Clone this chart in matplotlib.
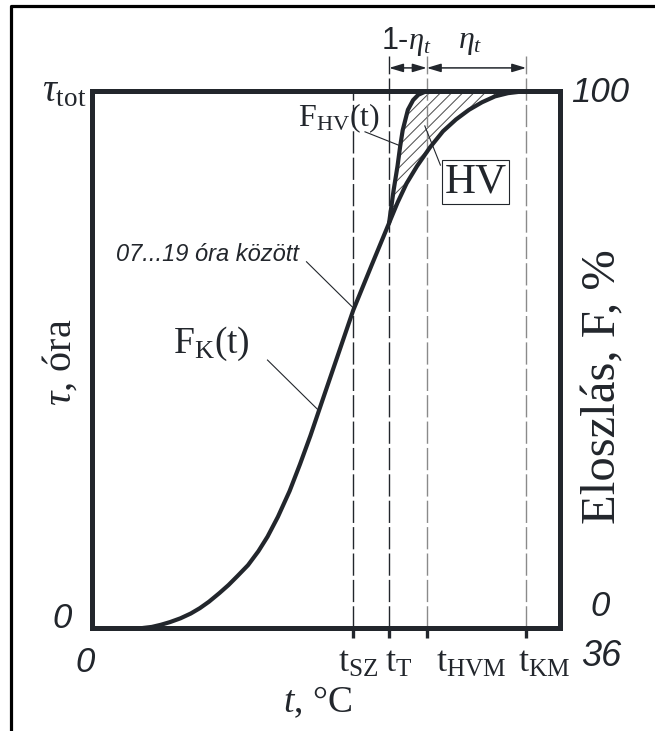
import matplotlib
matplotlib.use("Agg")
import matplotlib.pyplot as plt
from matplotlib.lines import Line2D

plt.rcParams['mathtext.fontset'] = 'custom'
plt.rcParams['mathtext.rm'] = 'Liberation Serif'
plt.rcParams['mathtext.it'] = 'Liberation Serif:italic'
plt.rcParams['mathtext.bf'] = 'Liberation Serif:bold'
plt.rcParams['hatch.linewidth'] = 0.7

# --- data -----------------------------------------------------------------
# cumulative distribution of outdoor temperature, whole day (K)
fk_t = [3.9, 4.6, 5.3, 6.0, 6.8, 7.6, 8.3, 9.0, 9.8, 10.5, 11.2, 12.0,
        12.8, 13.5, 14.3, 15.2, 16.0, 16.8, 17.6, 18.8, 20.1, 21.5, 22.85,
        23.5, 24.2, 25.0, 26.0, 27.0, 28.0, 29.0, 30.0, 31.0, 32.0, 33.4]
fk_F = [0, 0.2, 0.6, 1.1, 1.8, 2.7, 3.7, 4.9, 6.5, 8.0, 9.7, 11.7,
        14.3, 17.0, 20.7, 25.5, 30.5, 35.8, 41.5, 50.0, 59.2, 67.5, 75.4,
        79.2, 82.8, 86.0, 89.5, 92.5, 94.7, 96.5, 97.9, 99.0, 99.6, 100]
# heat-recovery branch (HV)
fhv_t = [22.85, 23.0, 23.2, 23.5, 23.7, 23.9, 24.3, 24.7, 25.1, 25.75]
fhv_F = [75.4, 78.0, 81.5, 86.0, 89.6, 92.7, 96.5, 98.3, 99.3, 100]

t_max = 36
F_max = 100
t_marks = [20.1, 22.85, 25.75, 33.4]          # t_SZ, t_T, t_HVM, t_KM
t_mark_labels = [r'$\mathrm{t_{SZ}}$', r'$\mathrm{t_{T}}$',
                 r'$\mathrm{t_{HVM}}$', r'$\mathrm{t_{KM}}$']
t_label_x = [20.5, 23.6, 29.2, 34.8]

dark = '#22262c'
grey = '#8a8a8a'
serif = 'Liberation Serif'
sans = 'Liberation Sans'

W, H = 655, 731
fig = plt.figure(figsize=(W / 100, H / 100), dpi=100)
ax = fig.add_axes([92 / W, 1 - 628 / H, (560 - 92) / W, (628 - 91) / H])
ax.set_xlim(0, t_max)
ax.set_ylim(0, F_max)
ax.set_xticks([])
ax.set_yticks([])
for s in ax.spines.values():
    s.set_linewidth(3.6)
    s.set_color(dark)
    s.set_zorder(5)

# outer frame (left and top)
fig.add_artist(Line2D([11 / W, 11 / W, 1.0], [0.0, 1 - 6 / H, 1 - 6 / H],
                      color='black', lw=2.3, transform=fig.transFigure))

# vertical guide lines
ax.plot([t_marks[0]] * 2, [0, 100], color=dark, lw=1.0, dashes=(16, 3))
ax.plot([t_marks[1]] * 2, [0, 106.5], color=dark, lw=1.0, dashes=(16, 3),
        clip_on=False)
for tm in t_marks[2:]:
    ax.plot([tm] * 2, [0, 106.5], color=grey, lw=1.0, dashes=(16, 3),
            clip_on=False)
for tm in t_marks:
    ax.plot([tm] * 2, [0, -1.9], color=dark, lw=2.4, clip_on=False,
            solid_capstyle='butt')

# hatched area between the two curves
poly_t = fhv_t + [t for t in fk_t[::-1] if t > fhv_t[0]] + [fhv_t[0]]
poly_F = fhv_F + [f for t, f in zip(fk_t[::-1], fk_F[::-1]) if t > fhv_t[0]] + [fhv_F[0]]
ax.fill(poly_t, poly_F, facecolor='none', edgecolor='#4a4a4a', hatch='///', lw=0)

ax.plot(fk_t, fk_F, color=dark, lw=3.0, solid_capstyle='round',
        solid_joinstyle='round', zorder=4)
ax.plot(fhv_t, fhv_F, color=dark, lw=3.0, solid_capstyle='round',
        solid_joinstyle='round', zorder=4)

# dimension arrows above the plot
arr = dict(arrowstyle='<|-|>,head_length=0.6,head_width=0.18', color=dark,
           lw=1.1, shrinkA=0, shrinkB=0, mutation_scale=14)
ax.annotate('', xy=(t_marks[1], 104.3), xytext=(t_marks[2], 104.3),
            arrowprops=arr, annotation_clip=False)
ax.annotate('', xy=(t_marks[2], 104.3), xytext=(t_marks[3], 104.3),
            arrowprops=arr, annotation_clip=False)
ax.text(24.2, 109.3, r'1-$\eta_t$', family=sans, fontsize=22, color=dark,
        ha='center', va='center')
ax.text(29.1, 109.3, r'$\eta_t$', fontsize=23, color=dark,
        ha='center', va='center')

# leader lines and curve labels
lead = dict(color=dark, lw=0.8)
ax.plot([21.0, 23.7], [92.4, 89.8], **lead)
ax.plot([26.8, 25.6], [86.2, 93.5], **lead)
ax.plot([16.5, 20.1], [68.2, 59.6], **lead)
ax.plot([13.5, 17.4], [49.9, 40.6], **lead)

ax.text(19.0, 95.0, r'$\mathrm{F_{HV}(t)}$', fontsize=23, color=dark,
        ha='center', va='center')
ax.text(29.5, 83.0, 'HV', family=serif, fontsize=31, color=dark,
        ha='center', va='center',
        bbox=dict(boxstyle='square,pad=0.06', fc='white', ec=dark, lw=0.8))
ax.text(8.9, 69.5, '07...19 óra között', family=sans, style='italic',
        fontsize=17, color=dark, ha='center', va='center')
ax.text(9.2, 53.0, r'$\mathrm{F_{K}(t)}$', fontsize=27, color=dark,
        ha='center', va='center')

# axis annotations
def ftext(x, y, s, **kw):
    fig.text(x / W, 1 - y / H, s, color=dark, ha='center', va='center', **kw)

ftext(64, 90, r'$\tau_{\mathrm{tot}}$', fontsize=28)
ftext(60, 362, r'$\tau$, óra', family=serif, fontsize=29, rotation=90)
ftext(62, 618, '0', family=sans, style='italic', fontsize=25)
ftext(85, 662, '0', family=sans, style='italic', fontsize=25)
ftext(601, 656, '36', family=sans, style='italic', fontsize=26)
ftext(600, 92, '100', family=sans, style='italic', fontsize=25)
ftext(600, 607, '0', family=sans, style='italic', fontsize=25)
ftext(603, 387, 'Eloszlás, F, %', family=serif, fontsize=35, rotation=90)
ftext(318, 702, r'$t$, °C', family=serif, fontsize=27)

for x, lab in zip(t_label_x, t_mark_labels):
    ax.text(x, -6.3, lab, fontsize=26, color=dark, ha='center', va='center')

fig.savefig('out.png', dpi=100)
